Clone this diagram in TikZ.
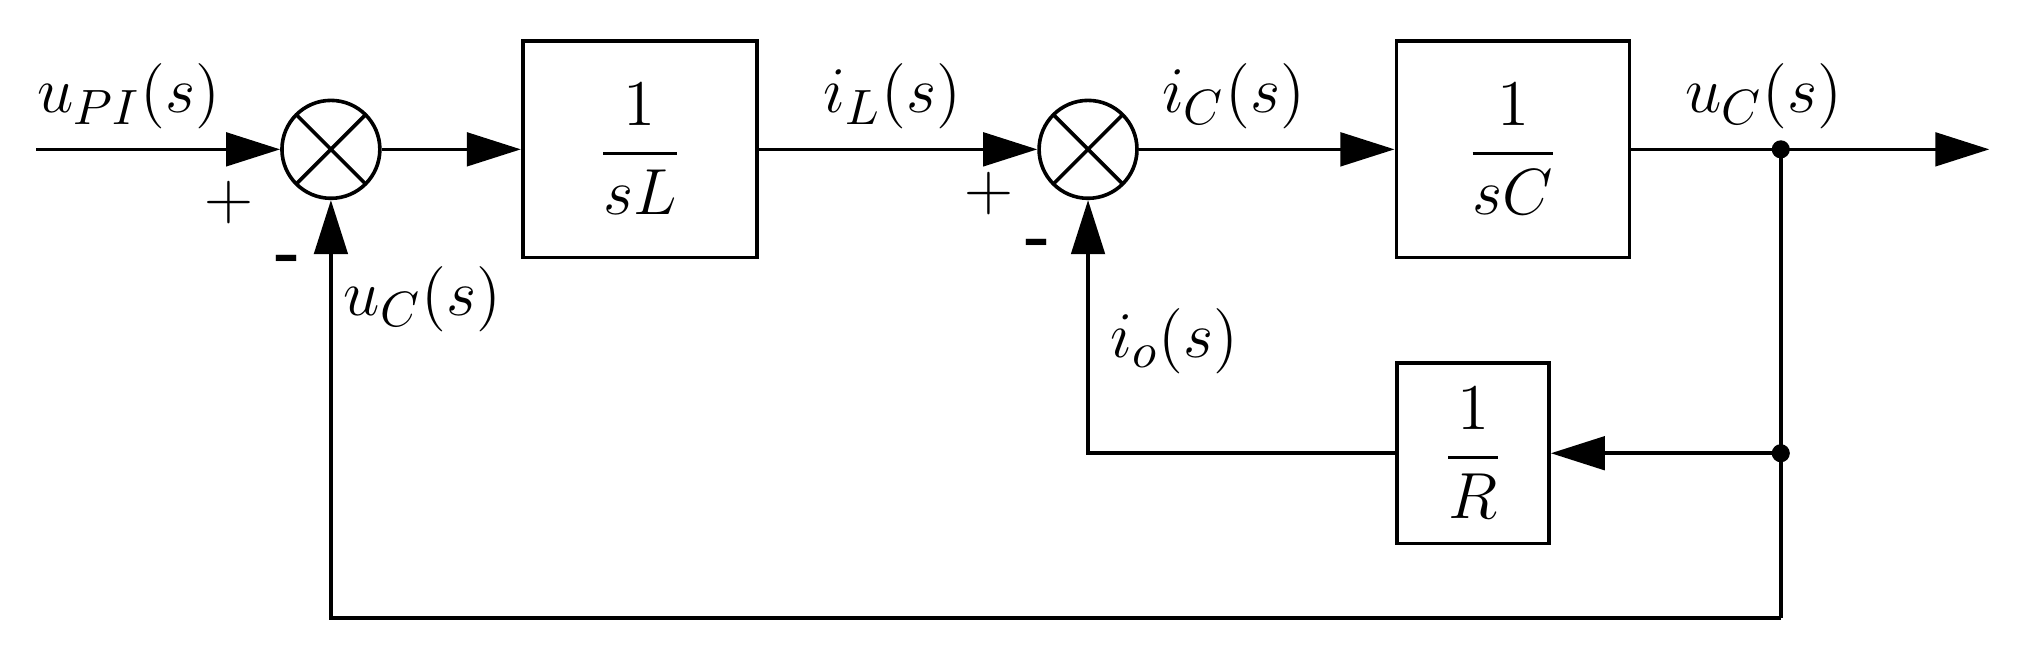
\documentclass[tikz,border=0pt]{standalone}
\usepackage{amsmath}
\usetikzlibrary{arrows.meta}

\begin{document}
\begin{tikzpicture}[
  x=0.01cm, y=-0.01cm,
  every node/.style={
    font=\fontsize{15}{18}\selectfont,
  },
  block/.style={
    draw,
    thick,
    minimum width=#1,
  },
  sum/.style={
    draw,
    thick,
    circle,
    minimum size=0.76cm,
    inner sep=0pt,
    path picture={
      \draw[thick] (path picture bounding box.south west) -- (path picture bounding box.north east)
        (path picture bounding box.north west) -- (path picture bounding box.south east);
    },
  },
  signal/.style={
    draw,
    thick,
    -{Triangle[length=4.2mm,width=2.6mm]},
  },
  line/.style={
    draw,
    thick,
  },
]
\useasboundingbox (0,0) rectangle (1568,513);

% Blocks and summing points
\node[sum] (s1) at (257,116) {};
\node[block=1.82cm, minimum height=1.68cm] (gL) at (497,116) {$\dfrac{1}{sL}$};
\node[sum] (s2) at (845,116) {};
\node[block=1.81cm, minimum height=1.68cm] (gC) at (1175,116) {$\dfrac{1}{sC}$};
\node[block=1.18cm, minimum height=1.4cm] (gR) at (1144,352) {$\dfrac{1}{R}$};

% Free ends and branch points
\coordinate (in) at (28,116);
\coordinate (out) at (1545,116);
\coordinate (b1) at (1383,116);
\coordinate (b2) at (1383,352);
\coordinate (b3) at (1383,480);
\fill (b1) circle (2pt);
\fill (b2) circle (2pt);

% Forward path
\path[signal] (in) -- (s1);
\path[signal] (s1) -- (gL);
\path[signal] (gL) -- (s2);
\path[signal] (s2) -- (gC);
\path[signal] (gC) -- (out);

% Feedback paths
\path[line] (b1) -- (b3);
\path[signal] (b2) -- (gR);
\path[signal] (gR.west) -| (s2.south);
\path[signal] (b3) -| (s1.south);

% Labels
\node at (100,75) {$u_{PI}(s)$};
\node at (178,157) {+};
\node at (224,205) {\textbf{-}};
\node at (328,232) {$u_C(s)$};
\node at (693,75) {$i_L(s)$};
\node at (768,150) {+};
\node at (806,193) {\textbf{-}};
\node at (958,75) {$i_C(s)$};
\node at (1370,75) {$u_C(s)$};
\node at (912,265) {$i_o(s)$};
\end{tikzpicture}
\end{document}
